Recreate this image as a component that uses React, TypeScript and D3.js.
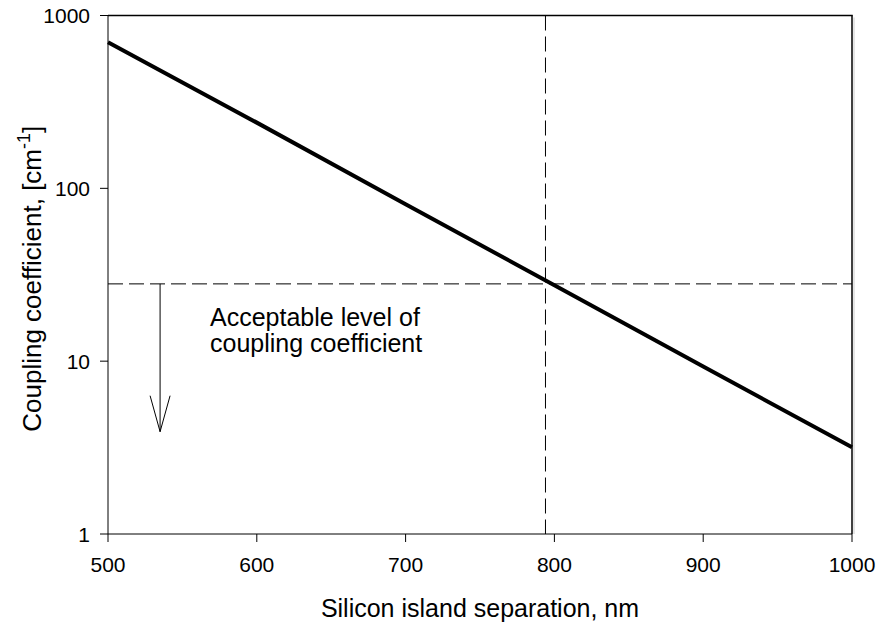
import React from "react";
import * as d3 from "d3";

// Coupling coefficient vs. silicon island separation
const separationNm = [500, 600, 700, 800, 900, 1000];
const couplingCoeff = [700, 240, 81, 27.5, 9.3, 3.18];
const xTicks = [500, 600, 700, 800, 900, 1000];
const yTicks = [1, 10, 100, 1000];
const acceptableLevel = 28;
const criticalSeparation = 794;

const W = 877;
const H = 625;
const M = { left: 108, right: 852, top: 15.5, bottom: 534 };
const FONT = "Liberation Sans, Arial, sans-serif";
const TICK_FS = 21;
const TITLE_FS = 25;

export default function App() {
  const x = d3.scaleLinear().domain([500, 1000]).range([M.left, M.right]);
  const y = d3.scaleLog().domain([1, 1000]).range([M.bottom, M.top]);

  const pts = separationNm.map((s, i) => [s, couplingCoeff[i]] as [number, number]);
  const line = d3
    .line<[number, number]>()
    .x((d) => x(d[0]))
    .y((d) => y(d[1]));

  const ax = x(535);
  const ay0 = y(acceptableLevel);
  const ay1 = 431.7;

  return (
    <svg
      width={W}
      height={H}
      style={{ position: "absolute", left: 0, top: 0, background: "#fff" }}
      fontFamily={FONT}
    >
      {/* frame */}
      <line x1={M.left} x2={M.right} y1={M.bottom} y2={M.bottom} stroke="#000" strokeWidth={1} />
      <line x1={M.left} x2={M.left} y1={M.top} y2={M.bottom} stroke="#000" strokeWidth={1} />
      <line x1={M.left} x2={M.right + 0.75} y1={M.top} y2={M.top} stroke="#000" strokeWidth={1.5} />
      <line x1={M.right} x2={M.right} y1={M.top} y2={M.bottom} stroke="#000" strokeWidth={1.5} />
      <line x1={M.right + 2} x2={M.right + 2} y1={M.top + 2} y2={M.bottom} stroke="#ccc" strokeWidth={1} />

      {/* x ticks */}
      {xTicks.map((t) => (
        <g key={"x" + t}>
          <line x1={x(t)} x2={x(t)} y1={M.bottom} y2={M.bottom + 8} stroke="#000" strokeWidth={1} />
          <text x={x(t)} y={572} textAnchor="middle" fontSize={TICK_FS}>
            {t}
          </text>
        </g>
      ))}

      {/* y ticks */}
      {yTicks.map((t) => (
        <g key={"y" + t}>
          <line x1={M.left - 8} x2={M.left} y1={y(t)} y2={y(t)} stroke="#000" strokeWidth={1} />
          <text x={M.left - 18} y={y(t) + 7.5} textAnchor="end" fontSize={TICK_FS}>
            {t}
          </text>
        </g>
      ))}

      {/* reference lines */}
      <line
        x1={M.left}
        x2={M.right}
        y1={y(acceptableLevel)}
        y2={y(acceptableLevel)}
        stroke="#000"
        strokeWidth={1}
        strokeDasharray="15 6"
      />
      <line
        x1={x(criticalSeparation)}
        x2={x(criticalSeparation)}
        y1={M.top}
        y2={M.bottom}
        stroke="#000"
        strokeWidth={1}
        strokeDasharray="15 6"
      />

      {/* curve */}
      <path d={line(pts) ?? ""} fill="none" stroke="#000" strokeWidth={4} />

      {/* arrow */}
      <line x1={ax} x2={ax} y1={ay0} y2={ay1} stroke="#000" strokeWidth={1} />
      <polyline
        points={`${ax - 10},${ay1 - 36} ${ax},${ay1} ${ax + 10},${ay1 - 36}`}
        fill="none"
        stroke="#000"
        strokeWidth={1}
      />
      <text x={210} y={326} fontSize={TITLE_FS}>
        Acceptable level of
      </text>
      <text x={210} y={352} fontSize={TITLE_FS}>
        coupling coefficient
      </text>

      {/* axis titles */}
      <text x={(M.left + M.right) / 2} y={617} textAnchor="middle" fontSize={TITLE_FS}>
        Silicon island separation, nm
      </text>
      <text
        transform={`translate(41, ${(M.top + M.bottom) / 2 + 4}) rotate(-90)`}
        textAnchor="middle"
        fontSize={26}
      >
        Coupling coefficient, [cm
        <tspan fontSize={18} dy={-11}>
          -1
        </tspan>
        <tspan dy={11}>]</tspan>
      </text>
    </svg>
  );
}
